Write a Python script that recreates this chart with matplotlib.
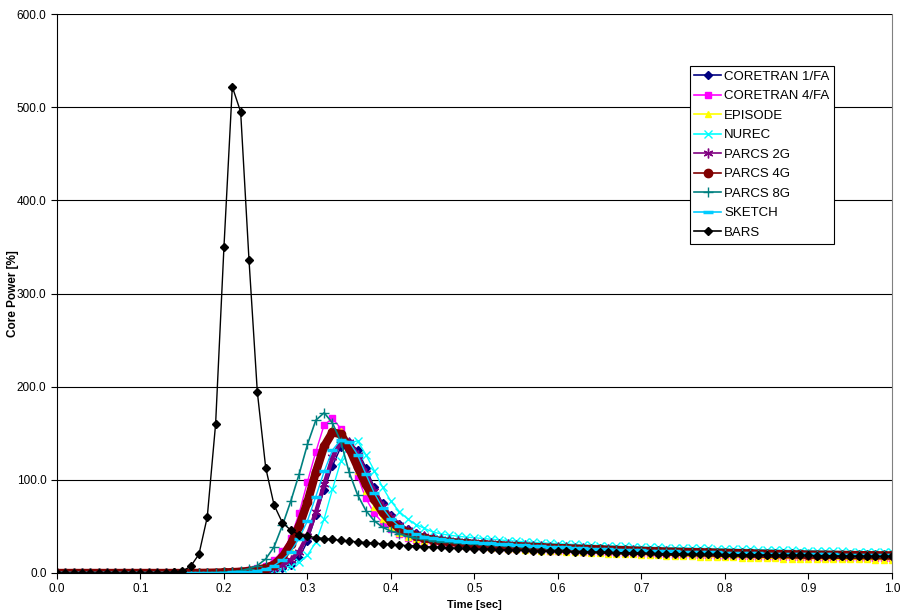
import numpy as np
import matplotlib
matplotlib.use("Agg")
import matplotlib.pyplot as plt

plt.rcParams['font.family'] = ['Liberation Sans', 'DejaVu Sans']

# time grid, 0.00 .. 1.00 sec every 0.01
t = np.round(np.arange(0, 101) / 100.0, 2)

zeros10 = [0.0, 0.0, 0.0, 0.0, 0.0, 0.0, 0.0, 0.0, 0.0, 0.0]

coretran_1fa = zeros10 + [
    0, 0, 0, 0, 0, 0, 0.1, 0.1, 0.2, 0.3,
    0.4, 0.6, 0.9, 1.3, 1.8, 2.5, 3.5, 5.5, 9, 16,
    34, 62, 89, 115, 135, 141, 132, 113, 92, 75,
    62, 53, 47, 43, 40, 38, 36.5, 35.5, 34.7, 34,
    33.4, 32.8, 32.2, 31.6, 31, 30.5, 30, 29.5, 29, 28.5,
    28, 27.6, 27.2, 26.8, 26.4, 26, 25.6, 25.2, 24.8, 24.5,
    24.2, 23.9, 23.6, 23.3, 23, 22.7, 22.4, 22.2, 22, 21.8,
    21.6, 21.4, 21.2, 21, 20.8, 20.6, 20.4, 20.2, 20, 19.9,
    19.8, 19.7, 19.6, 19.5, 19.4, 19.3, 19.2, 19.1, 19, 18.9,
    18.8]

coretran_4fa = zeros10 + [
    0, 0, 0, 0, 0, 0, 0.1, 0.2, 0.3, 0.5,
    1, 1.5, 2.2, 3.2, 5, 8, 14, 24, 38, 64,
    98, 130, 159, 166, 155, 133, 104, 80, 64, 54,
    47, 42, 38, 35.5, 33.5, 32, 31, 30, 29.3, 28.7,
    28.1, 27.6, 27.1, 26.6, 26.1, 25.7, 25.3, 24.9, 24.5, 24.1,
    23.8, 23.5, 23.2, 22.9, 22.6, 22.3, 22, 21.7, 21.4, 21.1,
    20.8, 20.5, 20.2, 19.9, 19.6, 19.4, 19.2, 19, 18.8, 18.6,
    18.4, 18.2, 18, 17.8, 17.6, 17.4, 17.2, 17, 16.9, 16.8,
    16.7, 16.6, 16.5, 16.4, 16.3, 16.2, 16.1, 16, 15.9, 15.8,
    15.7]

episode = zeros10 + [
    0, 0, 0, 0, 0, 0, 0.1, 0.1, 0.2, 0.4,
    0.6, 0.9, 1.4, 2.1, 3.2, 5, 8, 14, 25, 45,
    75, 110, 140, 155, 152, 134, 110, 88, 71, 58,
    49, 43, 39, 36, 34, 32.5, 31.3, 30.3, 29.5, 28.8,
    28.2, 27.6, 27, 26.4, 25.9, 25.4, 24.9, 24.4, 24, 23.6,
    23.2, 22.8, 22.4, 22, 21.6, 21.2, 20.8, 20.5, 20.2, 19.9,
    19.6, 19.3, 19, 18.7, 18.4, 18.1, 17.8, 17.5, 17.3, 17.1,
    16.9, 16.7, 16.5, 16.3, 16.1, 15.9, 15.7, 15.5, 15.4, 15.3,
    15.2, 15.1, 15, 14.9, 14.8, 14.7, 14.6, 14.5, 14.4, 14.3,
    14.2]

nurec = zeros10 + [
    0, 0, 0, 0, 0, 0, 0, 0.1, 0.1, 0.2,
    0.3, 0.5, 0.7, 1, 1.5, 2.2, 3.3, 5, 7.5, 12,
    19, 33, 58, 90, 120, 139, 142, 127, 110, 92,
    77, 66, 58, 52, 48, 44, 42, 40.5, 39.5, 38.5,
    37.8, 37, 36.2, 35.5, 34.8, 34.2, 33.6, 33, 32.5, 32,
    31.5, 31.1, 30.7, 30.3, 29.9, 29.5, 29.2, 28.9, 28.6, 28.3,
    28, 27.7, 27.5, 27.3, 27.1, 26.9, 26.7, 26.5, 26.3, 26.1,
    25.9, 25.7, 25.5, 25.3, 25.1, 24.9, 24.7, 24.5, 24.3, 24.1,
    23.9, 23.7, 23.5, 23.3, 23.1, 22.9, 22.7, 22.5, 22.3, 22.1,
    22]

parcs_2g = zeros10 + [
    0, 0, 0, 0, 0, 0, 0.1, 0.1, 0.2, 0.3,
    0.5, 0.7, 1.1, 1.6, 2.4, 3.6, 5.5, 8.5, 14, 23,
    40, 65, 95, 124, 141, 141, 127, 107, 88, 72,
    60, 52, 46, 42, 39.5, 37.5, 36, 35, 34.2, 33.6,
    33, 32.4, 31.8, 31.2, 30.7, 30.2, 29.7, 29.2, 28.7, 28.2,
    27.8, 27.4, 27, 26.6, 26.2, 25.8, 25.4, 25, 24.7, 24.4,
    24.1, 23.8, 23.5, 23.2, 22.9, 22.6, 22.3, 22.1, 21.9, 21.7,
    21.5, 21.3, 21.1, 20.9, 20.7, 20.5, 20.3, 20.1, 19.9, 19.8,
    19.7, 19.6, 19.5, 19.4, 19.3, 19.2, 19.1, 19, 18.9, 18.8,
    18.7]

parcs_4g = zeros10 + [
    0, 0, 0, 0, 0, 0, 0.1, 0.1, 0.2, 0.4,
    0.6, 0.9, 1.4, 2.2, 3.4, 5.5, 9, 17, 31, 50,
    76, 108, 136, 151, 149, 134, 114, 95, 79, 65,
    55, 48, 43.5, 40, 37.5, 35.7, 34.3, 33.3, 32.5, 31.8,
    31.2, 30.7, 30.2, 29.7, 29.2, 28.8, 28.4, 28, 27.6, 27.2,
    26.8, 26.5, 26.2, 25.9, 25.6, 25.3, 25, 24.7, 24.4, 24.1,
    23.8, 23.5, 23.2, 23, 22.8, 22.6, 22.4, 22.2, 22, 21.8,
    21.6, 21.4, 21.2, 21, 20.8, 20.6, 20.4, 20.2, 20, 19.9,
    19.8, 19.7, 19.6, 19.5, 19.4, 19.3, 19.2, 19.1, 19, 18.9,
    18.8]

parcs_8g = zeros10 + [
    0, 0, 0, 0, 0, 0, 0.1, 0.2, 0.3, 0.5,
    0.9, 1.5, 2.5, 4.5, 8, 15, 28, 51, 77, 106,
    138, 164, 172, 161, 141, 108, 84, 67, 56, 49,
    45, 42, 39.5, 37.5, 36, 34.8, 33.8, 33, 32.3, 31.7,
    31.1, 30.6, 30.1, 29.6, 29.1, 28.7, 28.3, 27.9, 27.5, 27.1,
    26.8, 26.5, 26.2, 25.9, 25.6, 25.3, 25, 24.7, 24.4, 24.1,
    23.8, 23.5, 23.2, 23, 22.8, 22.6, 22.4, 22.2, 22, 21.8,
    21.6, 21.4, 21.2, 21, 20.8, 20.6, 20.4, 20.2, 20.1, 20,
    19.9, 19.8, 19.7, 19.6, 19.5, 19.4, 19.3, 19.2, 19.1, 19,
    19]

sketch = zeros10 + [
    0, 0, 0, 0, 0, 0, 0, 0.1, 0.2, 0.3,
    0.4, 0.6, 0.9, 1.4, 2.5, 4.5, 8, 14, 23, 37,
    56, 82, 109, 132, 143, 141, 127, 106, 86, 70,
    58, 50, 45, 41.5, 39, 37.3, 36, 35, 34.2, 33.5,
    32.9, 32.3, 31.7, 31.1, 30.6, 30.1, 29.6, 29.1, 28.6, 28.2,
    27.8, 27.4, 27, 26.6, 26.2, 25.8, 25.5, 25.2, 24.9, 24.6,
    24.3, 24, 23.7, 23.4, 23.1, 22.8, 22.6, 22.4, 22.2, 22,
    21.8, 21.6, 21.4, 21.2, 21, 20.8, 20.6, 20.5, 20.4, 20.3,
    20.2, 20.1, 20, 19.9, 19.8, 19.7, 19.6, 19.5, 19.4, 19.3,
    19.2]

bars = zeros10 + [
    0, 0, 0.1, 0.3, 0.8, 2, 7, 20, 60, 160,
    350, 522, 495, 336, 194, 113, 73, 54, 46, 41,
    39.5, 38, 37, 36, 35, 34.2, 33.4, 32.7, 32, 31.3,
    30.6, 30, 29.4, 28.9, 28.4, 27.9, 27.5, 27.1, 26.7, 26.3,
    26, 25.7, 25.4, 25.1, 24.8, 24.5, 24.2, 23.9, 23.7, 23.5,
    23.3, 23.1, 22.9, 22.7, 22.5, 22.3, 22.1, 21.9, 21.7, 21.5,
    21.3, 21.1, 20.9, 20.7, 20.5, 20.3, 20.2, 20.1, 20, 19.9,
    19.8, 19.7, 19.6, 19.5, 19.4, 19.3, 19.2, 19.1, 19, 18.9,
    18.8, 18.7, 18.6, 18.5, 18.4, 18.3, 18.2, 18.1, 18, 17.9,
    17.8]

fig = plt.figure(figsize=(9, 6.14), dpi=100)
ax = fig.add_axes([0.0633, 0.0668, 0.9277, 0.9102])

for y in range(100, 601, 100):
    ax.axhline(y, color='black', lw=0.8, zorder=0)

ax.plot(t, coretran_1fa, color='#000080', lw=1, marker='D', ms=4, label='CORETRAN 1/FA')
ax.plot(t, coretran_4fa, color='#FF00FF', lw=1, marker='s', ms=5, label='CORETRAN 4/FA')
ax.plot(t, episode, color='#FFFF00', lw=1, marker='^', ms=5, label='EPISODE')
ax.plot(t, nurec, color='#00FFFF', lw=1, marker='x', ms=6, mew=1, label='NUREC')
ax.plot(t, parcs_2g, color='#800080', lw=3, marker=(6, 2, 0), ms=7, mew=1, label='PARCS 2G')
ax.plot(t, parcs_4g, color='#800000', lw=6, marker='o', ms=6, label='PARCS 4G')
ax.plot(t, parcs_8g, color='#008080', lw=1.2, marker='+', ms=7, mew=1, label='PARCS 8G')
ax.plot(t, sketch, color='#00CCFF', lw=1, marker='_', ms=7, mew=2.5, label='SKETCH')
ax.plot(t, bars, color='black', lw=1, marker='D', ms=4.5, label='BARS')

ax.set_xlim(0, 1.0)
ax.set_ylim(0, 600)
ax.set_xticks(np.arange(0, 1.01, 0.1))
ax.set_xticklabels([f'{v:.1f}' for v in np.arange(0, 1.01, 0.1)])
ax.set_yticks(range(0, 601, 100))
ax.set_yticklabels([f'{v:.1f}' for v in range(0, 601, 100)])
ax.tick_params(axis='both', labelsize=8.5, direction='out', length=4, width=0.8)

ax.spines['top'].set_visible(False)
ax.spines['right'].set_color('#808080')
ax.spines['left'].set_linewidth(0.8)
ax.spines['bottom'].set_linewidth(0.8)

ax.set_xlabel('Time [sec]', fontsize=8, fontweight='bold', labelpad=3)
ax.set_ylabel('Core Power [%]', fontsize=8.5, fontweight='bold')
ax.yaxis.set_label_coords(-0.046, 0.5)

leg = ax.legend(loc='upper left', bbox_to_anchor=(0.758, 0.907), fontsize=9.5,
                frameon=True, fancybox=False, framealpha=1, edgecolor='black',
                handlelength=2.0, handletextpad=0.25, labelspacing=0.55,
                borderpad=0.35, borderaxespad=0)
leg.get_frame().set_linewidth(0.8)
for h in leg.get_lines():
    h.set_linewidth(1.2)

fig.savefig('out.png', dpi=100)
